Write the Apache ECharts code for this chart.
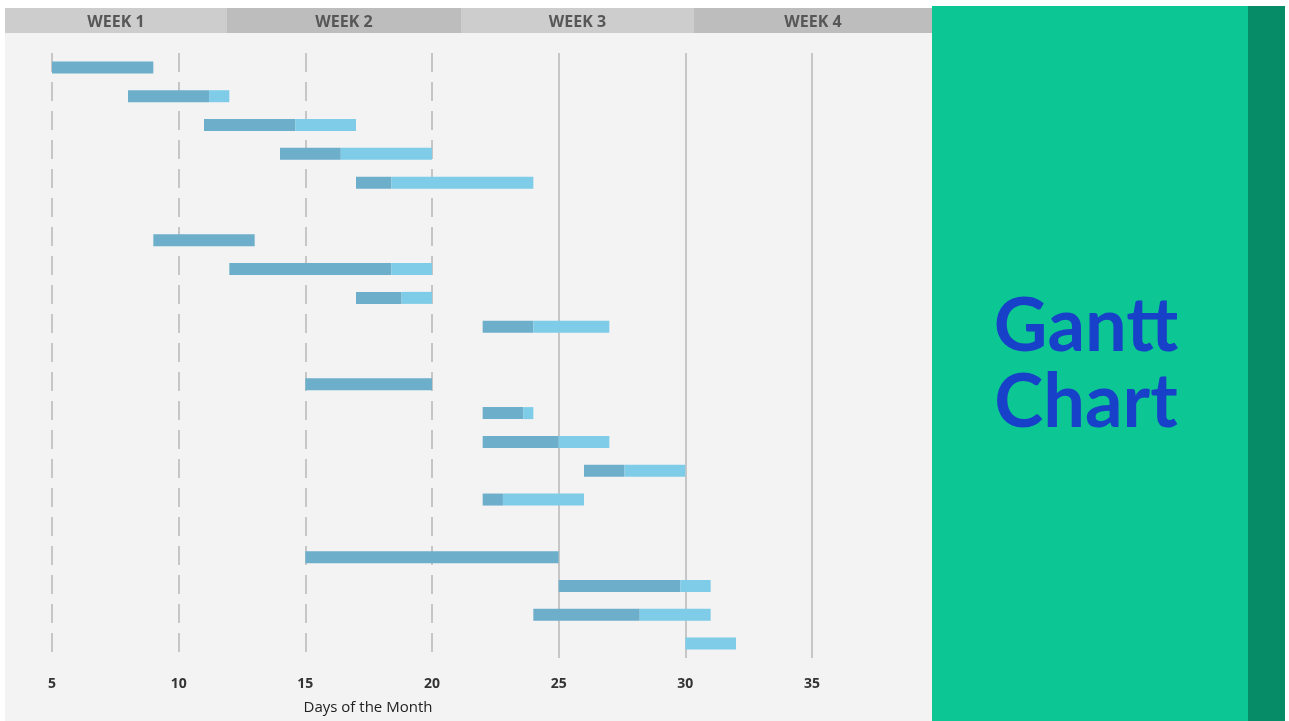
<!DOCTYPE html>
<html>
<head>
<meta charset="utf-8">
<script src="https://cdn.jsdelivr.net/npm/echarts@6/dist/echarts.min.js"></script>
<style>
  html, body { margin: 0; padding: 0; background: #ffffff; }
  #chart { width: 1289px; height: 721px; }
</style>
</head>
<body>
<div id="chart"></div>
<script>
// Task rows (empty rows separate the phases)
const tasks = ['Task 1','Task 2','Task 3','Task 4','Task 5','',
  'Task 6','Task 7','Task 8','Task 9',' ',
  'Task 10','Task 11','Task 12','Task 13','Task 14','  ',
  'Task 15','Task 16','Task 17','Task 18'];
// Start day of each task
const startDay = [5, 8, 11, 14, 17, null, 9, 12, 17, 22, null,
  15, 22, 22, 26, 22, null, 15, 25, 24, 30];
// Days already completed
const doneDays = [4, 3.2, 3.6, 2.4, 1.4, null, 4, 6.4, 1.8, 2, null,
  5, 1.6, 3, 1.6, 0.8, null, 10, 4.8, 4.2, 0];
// Days still remaining
const remainingDays = [0, 0.8, 2.4, 3.6, 5.6, null, 0, 1.6, 1.2, 3, null,
  0, 0.4, 2, 2.4, 3.2, null, 0, 1.2, 2.8, 2];
// Axis ticks
const dayTicks = [5, 10, 15, 20, 25, 30, 35];
const weekLabels = ['WEEK 1', 'WEEK 2', 'WEEK 3', 'WEEK 4'];

const chart = echarts.init(document.getElementById('chart'));

// header band positions (pixels)
const weekEdges = [5, 227, 461, 694, 932];
const weekFills = ['#cdcdcd', '#bdbdbd', '#cdcdcd', '#bdbdbd'];
const headerElems = [];
weekLabels.forEach((w, i) => {
  headerElems.push({
    type: 'rect', z: 1,
    shape: { x: weekEdges[i], y: 8, width: weekEdges[i + 1] - weekEdges[i], height: 25 },
    style: { fill: weekFills[i] }
  });
  headerElems.push({
    type: 'text', z: 2,
    x: (weekEdges[i] + weekEdges[i + 1]) / 2, y: 22,
    style: {
      text: w, fill: '#575757', font: 'bold 16px "Open Sans", sans-serif',
      align: 'center', verticalAlign: 'middle'
    }
  });
});

const dashedDays = [5, 10, 15, 20];

chart.setOption({
  backgroundColor: '#ffffff',
  animation: false,
  graphic: [
    { type: 'rect', z: -10, silent: true,
      shape: { x: 5, y: 8, width: 927, height: 713 }, style: { fill: '#f3f3f3' } },
    ...headerElems,
    { type: 'rect', z: 1, shape: { x: 932, y: 6, width: 316, height: 715 }, style: { fill: '#0cc693' } },
    { type: 'rect', z: 1, shape: { x: 1248, y: 6, width: 37, height: 715 }, style: { fill: '#068c66' } },
    { type: 'text', z: 2, x: 1086, y: 327,
      style: { text: 'Gantt', fill: '#1741c8', font: 'bold 74px Lato, sans-serif',
        align: 'center', verticalAlign: 'middle' } },
    { type: 'text', z: 2, x: 1086, y: 403,
      style: { text: 'Chart', fill: '#1741c8', font: 'bold 74px Lato, sans-serif',
        align: 'center', verticalAlign: 'middle' } },
    { type: 'text', z: 2, x: 368, y: 708,
      style: { text: 'Days of the Month', fill: '#222222', font: '15px "Open Sans", sans-serif',
        align: 'center', verticalAlign: 'middle' } }
  ],
  grid: { left: 52, top: 53, width: 760, height: 605, containLabel: false, outerBoundsMode: 'none' },
  xAxis: [{
    type: 'value', min: 5, max: 35, interval: 5,
    axisLine: { show: false }, axisTick: { show: false },
    splitLine: { show: false },
    axisLabel: { color: '#333333', fontSize: 14, fontWeight: 'bold',
      fontFamily: '"Open Sans", sans-serif', margin: 19 }
  }],
  yAxis: [{
    type: 'category', data: tasks, inverse: true,
    axisLine: { show: false }, axisTick: { show: false }, axisLabel: { show: false },
    splitLine: { show: false }
  }],
  series: [
    {
      // vertical day guides, kept under the bars
      type: 'line', data: [], silent: true, z: 1,
      markLine: {
        symbol: 'none', silent: true, label: { show: false }, z: 1,
        data: dayTicks.map(d => ({
          xAxis: d,
          lineStyle: { color: '#c6c6c6', width: 2,
            type: dashedDays.includes(d) ? [19, 10] : 'solid' }
        }))
      }
    },
    {
      name: 'start', type: 'bar', stack: 'gantt', data: startDay, z: 5,
      itemStyle: { color: 'transparent' }, barWidth: 12, silent: true
    },
    {
      name: 'done', type: 'bar', stack: 'gantt', data: doneDays, z: 5,
      itemStyle: { color: '#6daecb' }, barWidth: 12
    },
    {
      name: 'remaining', type: 'bar', stack: 'gantt', data: remainingDays, z: 5,
      itemStyle: { color: '#7fcce8' }, barWidth: 12
    }
  ]
});
</script>
</body>
</html>
